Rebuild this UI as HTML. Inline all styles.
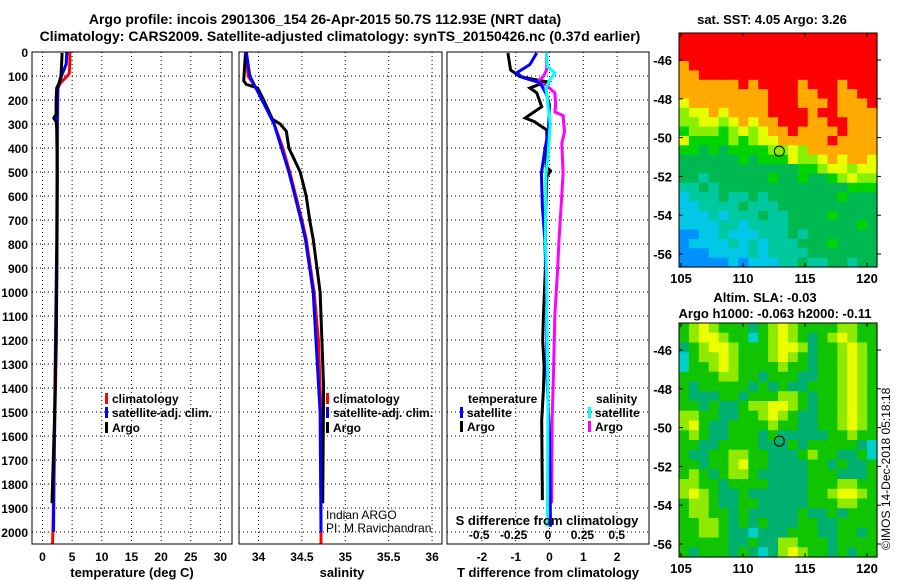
<!DOCTYPE html>
<html><head><meta charset="utf-8"><style>
html,body{margin:0;padding:0;background:#fff;}
svg{display:block;font-family:"Liberation Sans",Arial,sans-serif;}
.b{font-weight:bold;}
</style></head><body>
<svg id="fig" width="900" height="580" viewBox="0 0 900 580" xmlns="http://www.w3.org/2000/svg">
<text class="b" x="325" y="24" font-size="14" text-anchor="middle">Argo profile: incois 2901306_154 26-Apr-2015 50.7S 112.93E (NRT data)</text>
<text class="b" x="340" y="41" font-size="14" text-anchor="middle">Climatology: CARS2009. Satellite-adjusted climatology: synTS_20150426.nc (0.37d earlier)</text>
<g id="g"></g>
</svg>
<script>
// ---------- data ----------
const depthTicks=[0,100,200,300,400,500,600,700,800,900,1000,1100,1200,1300,1400,1500,1600,1700,1800,1900,2000];
const tempTicks=[0,5,10,15,20,25,30];
const salTicks=[34,34.5,35,35.5,36];
const tdiffTicks=[-2,-1,0,1,2];
const sdiffTicks=[-0.5,-0.25,0,0.25,0.5];
const sdiffTickLabels=["-0.5","-0.25","0","0.25","0.5"];
const lonTicks=[105,110,115,120];
const latTicks=[-46,-48,-50,-52,-54,-56];

const climTdep=[0,50,90,110,130,150,200,400,800,1200,1500,1800,2050];
const climTval=[4.6,4.6,4.5,3.8,3.0,2.6,2.5,2.5,2.45,2.35,2.1,1.9,1.7];
const satTdep=[0,50,100,150,300,800,1200,1600,2000];
const satTval=[4.1,4.0,3.2,2.6,2.5,2.4,2.2,2.0,1.85];
const argoTdep=[4,60,100,130,150,200,260,275,290,320,500,520,800,1200,1500,1880];
const argoTval=[3.3,3.2,3.1,2.8,2.4,2.3,2.3,1.9,2.3,2.4,2.5,2.5,2.45,2.3,2.05,1.6];

const climSdep=[0,100,150,200,300,400,500,600,700,780,1000,1200,1500,2050];
const climSval=[33.86,33.88,33.97,34.05,34.18,34.28,34.36,34.43,34.50,34.55,34.64,34.69,34.72,34.72];
const satSdep=[0,100,150,300,500,700,780,1000,1500,2000];
const satSval=[33.86,33.9,33.97,34.18,34.35,34.49,34.54,34.63,34.71,34.72];
const argoSdep=[4,120,135,150,200,280,300,330,400,500,600,700,780,1000,1200,1400,1880];
const argoSval=[33.85,33.83,33.86,33.99,34.06,34.16,34.25,34.32,34.35,34.48,34.55,34.59,34.63,34.71,34.73,34.75,34.74];

const dTsatDep=[4,52,87,107,128,174,220,325,408,506,644,783,922,1061,1339,1600,1978];
const dTsatVal=[-0.38,-0.58,-0.97,-0.78,-0.28,-0.1,0,-0.03,-0.14,-0.24,-0.21,-0.14,-0.1,-0.08,-0.08,0,0.03];
const dTargoDep=[4,75,103,124,135,150,170,228,275,290,325,367,478,495,520,700,900,1103,1200,1310,1410,1535,1867];
const dTargoVal=[-1.23,-1.15,-0.87,-0.08,-0.3,-0.58,-0.38,-0.23,-0.72,-0.45,-0.08,-0.08,-0.1,0.03,-0.08,-0.12,-0.12,-0.18,-0.2,-0.16,-0.18,-0.23,-0.21];
const dSsatDep=[4,60,87,115,150,220,300,436,506,783,922,1200,1500,1978];
const dSsatVal=[-0.01,-0.005,0.05,0.015,-0.015,0.0,0.015,0,-0.015,-0.02,-0.01,-0.005,0.0,-0.005];
const dSargoDep=[4,75,103,125,140,170,220,250,265,333,380,506,644,783,922,1089,1339,1533,1880];
const dSargoVal=[-0.01,-0.01,-0.035,-0.08,-0.01,0.05,0.055,0.05,0.11,0.12,0.1,0.11,0.095,0.08,0.068,0.05,0.04,0.03,0.027];

const sstRows=["RRRRRRRRRRRRRRRRRRRR","RRRRRRRRRRRRRRRRRRRR","RRRRRRRRRRRRRRRRRRRR","ORRRRRRRRRRRRRRRRRRR","OORRRRRRRRRRRRRRRRRR","OOOOOORORRRRORRRORRR","OOOOOOOOORRROORROORR","YOOOOOOOORRROOOROOOR","LYYOYOOOORRRRORROOOO","LLYYLYOYOORRROORROOO","GLLLGLYLYOOROOOOROOO","YGGGGLGLYYOOOOOROOOO","GGDGDGGGGLLYLOOOOOOO","DDDDDDGDGGGYLLYOYOOY","DDDDDDDDDDDDGGLYYLYY","DDTDDDDDDGDDGDDGLYLL","TTDTDDDDDDDDDDDDDGGG","CTTTDTTDTDDDDDDDGDDD","CCTTTTDTTTDDDDDDDDDD","CCCTCTTTDTTDDDDGDDDD","CCCCTTCTTTTDDDDDDDGD","BBCCTCCCTTTDTDDDDDDD","BCCCCTCTCTTTDDDGDDDD","BBBCCCCTCTTTTDDDDDDD","BBBBBCBCCCTTDTTDDTDD"];
const slaRows=["GLYLGGGDGLYLGGGGLLGG","GLYYLGGCGLYLGDGLYLGG","DGLYYLGGGLYYLDGGLYLG","CGLLYLGGGLYLGDGGLYLG","CGGLYLGGGGLGGDGGLYLG","GGGGLLGGDGGGDDGGLYLG","GDGGGGGDGDGDDGGGLYLG","GDDDGGDGGGLLGDGGLYLG","GGDGDDGLLYYLGDGGLYLG","LLGGDDGGLYLGDDGGLYLG","LYGDDGGGGLGGDDGGLYLG","GLGDDGGGDGDDDDDGGLGG","GGDDGGGGDDDGDGGGGGDC","GDDGGLLGGDDDGLGGDDGC","GGDGGLYGGDDDDGGDGDDG","GLGDGLLGDDDDDGGGDDDG","LLGGDGGGGDDDDGGGLLGG","LYLGDDGDDDDDDGGLYYLG","GLLGDDGGDDDDDGGGLLGG","GLLGGDGDDDDDGDDGDGGG","GGLLGDGDGDDDGGDDGGGG","GGLLGDDCDDDGGGDDGGDG","GGGGGDDGDDLLGGGDGGGG","GDGGGDGDCDLYLGGDGDGG"];
const argoLon=[112.93];
const argoLat=[-50.7];

// ---------- helpers ----------
const NS="http://www.w3.org/2000/svg";
const G=document.getElementById('g');
function mk(tag,attrs,parent){const e=document.createElementNS(NS,tag);for(const k in attrs)e.setAttribute(k,attrs[k]);(parent||G).appendChild(e);return e;}
function txt(x,y,s,size,anchor,bold,parent){const t=mk('text',{x:x,y:y,'font-size':size,'text-anchor':anchor||'middle'},parent);if(bold)t.setAttribute('font-weight','bold');t.textContent=s;return t;}

const top0=52,bot=544;
const yD=d=>top0+d*0.24;
const xT=v=>42.5+5.93*v;
const xS=v=>258.5+86.8*(v-34);
const xDT=v=>549.5+33.8*v;
const xDS=v=>548+137.5*v;

const panels=[{x0:32,x1:232,name:'temperature-panel'},{x0:239,x1:442,name:'salinity-panel'},{x0:447,x1:649,name:'difference-panel'}];
panels.forEach((p,i)=>{
  const g=mk('g',{});
  
  
  depthTicks.forEach(d=>{if(d>0){const l=mk('line',{x1:p.x0,x2:p.x1,y1:yD(d),y2:yD(d),stroke:'#000','stroke-width':1,'stroke-dasharray':'1,3'},g);}});
  p.g=g;
});
tempTicks.forEach(v=>{const l=mk('line',{x1:xT(v),x2:xT(v),y1:top0,y2:bot,stroke:'#000','stroke-dasharray':'1,3'},panels[0].g);
  const t=txt(xT(v),561,String(v),12,'middle',true);});
salTicks.forEach(v=>{const l=mk('line',{x1:xS(v),x2:xS(v),y1:top0,y2:bot,stroke:'#000','stroke-dasharray':'1,3'},panels[1].g);
  const t=txt(xS(v),561,String(v),12,'middle',true);});
tdiffTicks.forEach(v=>{const l=mk('line',{x1:xDT(v),x2:xDT(v),y1:top0,y2:bot,stroke:'#000','stroke-dasharray':'1,3'},panels[2].g);
  const t=txt(xDT(v),561,String(v),12,'middle',true);});
sdiffTicks.forEach((v,i)=>{const t=txt(xDS(v),539,sdiffTickLabels[i],12,'middle',true);});
depthTicks.forEach(d=>{const t=txt(28,yD(d)+5,String(d),12,'end',true);});

function series(dep,val,xf,color,name,w){
  const pts=dep.map((d,i)=>xf(val[i]).toFixed(1)+','+yD(d).toFixed(1)).join(' ');
  const l=mk('polyline',{points:pts,fill:'none',stroke:color,'stroke-width':w||3,'stroke-linejoin':'miter'});
  
  
}
series(climTdep,climTval,xT,'#ff0000','temp-climatology-line');
series(satTdep,satTval,xT,'#0000ff','temp-satellite-line');
series(argoTdep,argoTval,xT,'#000','temp-argo-line');
series(climSdep,climSval,xS,'#ff0000','sal-climatology-line');
series(argoSdep,argoSval,xS,'#000','sal-argo-line');
series(satSdep,satSval,xS,'#0000ff','sal-satellite-line');
series(dTargoDep,dTargoVal,xDT,'#000','tdiff-argo-line');
series(dSargoDep,dSargoVal,xDS,'#ff00ff','sdiff-argo-line');
series(dTsatDep,dTsatVal,xDT,'#0000ff','tdiff-satellite-line');
series(dSsatDep,dSsatVal,xDS,'#00ffff','sdiff-satellite-line');

panels.forEach(p=>{const r=mk('rect',{x:p.x0,y:top0,width:p.x1-p.x0,height:bot-top0,fill:'none',stroke:'#000','stroke-width':1});});

// axis titles
[[132,577,'temperature (deg C)','temp-axis-title'],[342,577,'salinity','sal-axis-title'],[548,577,'T difference from climatology','tdiff-axis-title'],[547,525,'S difference from climatology','sdiff-axis-title']].forEach(a=>{const t=txt(a[0],a[1],a[2],13,'middle',true);});

// legends
function legend(x,y,color,label,name){
  const g=mk('g',{});
  
  
  mk('rect',{x:x,y:y-10,width:3,height:11,fill:color},g);
  txt(x+7,y,label,12,'start',true,g);
}
legend(105,403,'#ff0000','climatology','legend-temp-climatology');
legend(105,417,'#0000ff','satellite-adj. clim.','legend-temp-satellite');
legend(105,432,'#000','Argo','legend-temp-argo');
legend(326,403,'#ff0000','climatology','legend-sal-climatology');
legend(326,417,'#0000ff','satellite-adj. clim.','legend-sal-satellite');
legend(326,432,'#000','Argo','legend-sal-argo');
{let t=txt(468,403,'temperature',12,'start',true);
 t=txt(596,403,'salinity',12,'start',true);}
legend(460,417,'#0000ff','satellite','legend-tdiff-satellite');
legend(460,431,'#000','Argo','legend-tdiff-argo');
legend(588,417,'#00ffff','satellite','legend-sdiff-satellite');
legend(588,431,'#ff00ff','Argo','legend-sdiff-argo');
{let t=txt(326,519,'Indian ARGO',12,'start',false);
 t=txt(326,532,'PI: M Ravichandran',12,'start',false);}

// ---------- maps ----------
const sstColors={R:'#ff0000',O:'#ffaa00',Y:'#e6ff00',L:'#88f000',G:'#00d400',D:'#00b850',T:'#00c8a0',C:'#00c8e6',B:'#0090ff'};
const slaColors={G:'#10c400',D:'#00b070',Y:'#eaff00',O:'#ffe000',L:'#90ea00',C:'#00d0c8'};
function drawMap(y0,rows,colors,name,titleLines){
  const x0=679,w=198,h=234;
  const lonX=lon=>681+12.4*(lon-105);
  const latY=lat=>y0+27+19.4*(-46-lat);
  const g=mk('g',{});
  
  
  const nr=rows.length,nc=rows[0].length,cw=w/nc,ch=h/nr;
  rows.forEach((row,r)=>{for(let c=0;c<nc;c++){const cell=mk('rect',{x:(x0+c*cw).toFixed(2),y:(y0+r*ch).toFixed(2),width:(cw+0.6).toFixed(2),height:(ch+0.6).toFixed(2),fill:colors[row[c]]},g);
    
    }});
  mk('rect',{x:x0,y:y0,width:w,height:h,fill:'none',stroke:'#000','stroke-width':1},g);
  lonTicks.forEach(v=>{mk('line',{x1:lonX(v),x2:lonX(v),y1:y0+h,y2:y0+h-4,stroke:'#000'},g);mk('line',{x1:lonX(v),x2:lonX(v),y1:y0,y2:y0+4,stroke:'#000'},g);
    const t=txt(lonX(v),y0+h+16,String(v),13,'middle',true,g);});
  latTicks.forEach(v=>{mk('line',{x1:x0,x2:x0+4,y1:latY(v),y2:latY(v),stroke:'#000'},g);mk('line',{x1:x0+w,x2:x0+w+4,y1:latY(v),y2:latY(v),stroke:'#000'},g);
    const t=txt(672,latY(v)+5,String(v),13,'end',true,g);});
  const m=mk('circle',{cx:lonX(argoLon[0]),cy:latY(argoLat[0]),r:5,fill:'none',stroke:'#000','stroke-width':1},g);
  
  
  titleLines.forEach(tl=>{const t=txt(tl[0],tl[1],tl[2],13,'middle',true);});
}
drawMap(33,sstRows,sstColors,'sst-map',[[772,24,'sat. SST: 4.05 Argo: 3.26','sst-map-title']]);
drawMap(323,slaRows,slaColors,'sla-map',[[765,302,'Altim. SLA: -0.03','sla-map-title'],[775,318,'Argo h1000: -0.063 h2000: -0.11','sla-map-subtitle']]);
{const t=txt(0,0,'©IMOS 14-Dec-2018 05:18:18',12,'start',false);t.setAttribute('transform','translate(890,550) rotate(-90)');}
</script>
</body></html>
